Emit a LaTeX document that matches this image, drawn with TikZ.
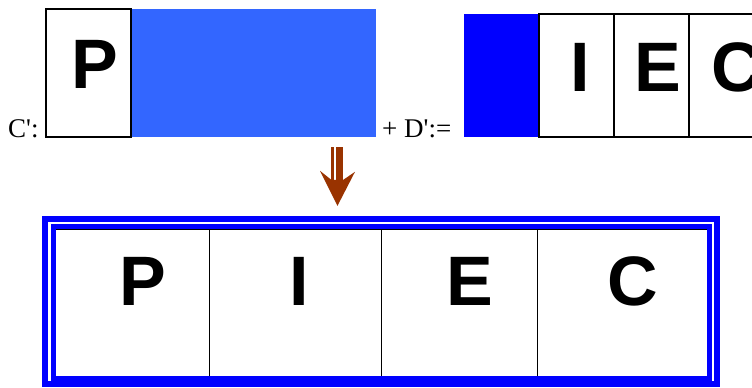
\documentclass[tikz,border=0pt]{standalone}
\usepackage{fontspec}
\setmainfont{Liberation Serif}
\newfontfamily\lettersf{Liberation Sans}
\usetikzlibrary{calc}
\definecolor{lightblue}{HTML}{3366FF}
\definecolor{pureblue}{HTML}{0000FF}
\definecolor{arrowbrown}{HTML}{993300}
\begin{document}
\begin{tikzpicture}[x=1pt,y=-1pt,
  cellbox/.style={draw=black,line width=1.2pt,anchor=north west,inner sep=0pt,outer sep=0pt},
  thincell/.style={draw=black,line width=0.9pt,anchor=north west,inner sep=0pt,outer sep=0pt},
  fillbox/.style={anchor=north west,inner sep=0pt,outer sep=0pt},
  letter/.style={inner sep=0pt,font=\lettersf\bfseries\fontsize{70}{70}\selectfont},
  eqlabel/.style={inner sep=0pt,anchor=base west,font=\fontsize{27}{27}\selectfont}]
\useasboundingbox (0,0) rectangle (752,388);
\clip (0,0) rectangle (752,388);
% top left group
\node[eqlabel] (cl) at (8,137) {C\textquotesingle:};
\node[cellbox,minimum width=85pt,minimum height=128pt] (cp) at (46,9) {};
\node[fillbox,fill=lightblue,minimum width=244pt,minimum height=128pt] (cb) at (131.6,9) {};
\node[letter] (tP) at (95,64) {P};
% plus D'
\node[eqlabel] (dl) at (382,137) {+ D\textquotesingle:=};
\node[fillbox,fill=pureblue,minimum width=75pt,minimum height=123pt] (db) at (464,14) {};
\node[cellbox,minimum width=75pt,minimum height=123pt] (di) at (539,14) {};
\node[cellbox,minimum width=75pt,minimum height=123pt] (de) at (614,14) {};
\node[cellbox,minimum width=75pt,minimum height=123pt] (dc) at (689,14) {};
\node[letter] (tI) at (580,67) {I};
\node[letter] (tE) at (658,67) {E};
\node[letter] (tC) at (737,67) {C};
% arrow
\coordinate (a0) at (337.5,147.3);
\fill[arrowbrown] ($(a0)+(-6.2,0)$) rectangle ($(a0)+(-3.8,34)$);
\fill[arrowbrown] ($(a0)+(-1.8,0)$) rectangle ($(a0)+(5.8,34)$);
\fill[arrowbrown] ($(a0)+(-17.5,23.5)$) -- ($(a0)+(-6.2,32.5)$)
  -- ($(a0)+(5.8,32.5)$) -- ($(a0)+(17.5,24.5)$)
  -- ($(a0)+(0,58.5)$) -- cycle;
% bottom result
\node[thincell,minimum width=154pt,minimum height=147pt] (bp) at (55,229) {};
\node[thincell,minimum width=172pt,minimum height=147pt] (bi) at (209,229) {};
\node[thincell,minimum width=156pt,minimum height=147pt] (be) at (381,229) {};
\node[thincell,minimum width=170pt,minimum height=147pt] (bc) at (537,229) {};
\node[letter] (bP) at (143,281.5) {P};
\node[letter] (bI) at (299,281.5) {I};
\node[letter] (bE) at (470,281.5) {E};
\node[letter] (bC) at (633,281.5) {C};
\draw[pureblue,line width=6pt] (45,219) rectangle (717,384);
\draw[pureblue,line width=5pt] (53.2,226) rectangle (709.8,378);
\end{tikzpicture}
\end{document}
